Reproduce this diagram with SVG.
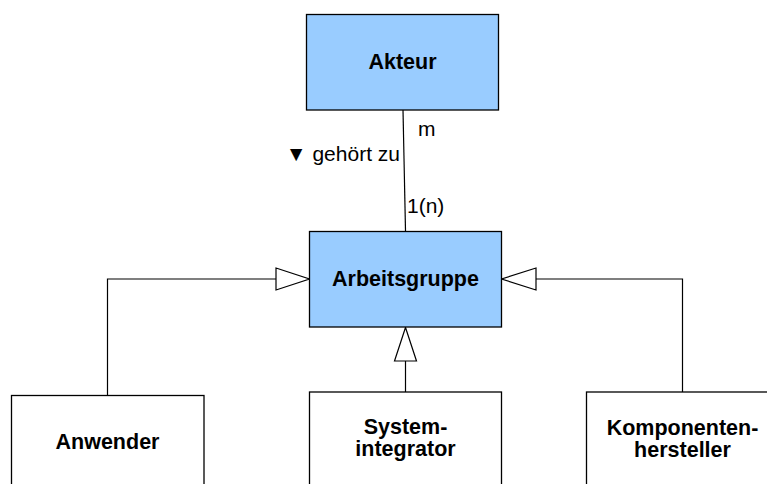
<svg xmlns="http://www.w3.org/2000/svg" width="767" height="484" viewBox="0 0 767 484">
  <style>
    .box { stroke: #000; stroke-width: 1.3; }
    .cls { fill: #99ccff; }
    .sub { fill: #ffffff; }
    .name { font-family: "Liberation Sans", Arial, sans-serif; font-size: 21.5px; font-weight: bold; text-anchor: middle; fill: #000; }
    .lbl { font-family: "Liberation Sans", Arial, sans-serif; font-size: 21px; fill: #000; }
    .edge { fill: none; stroke: #000; stroke-width: 1.2; }
    .head { fill: #fff; stroke: #000; stroke-width: 1.2; }
  </style>

  <!-- connectors -->
  <g id="connectors">
    <!-- association Akteur - Arbeitsgruppe -->
    <line class="edge" x1="403" y1="110" x2="405.5" y2="231"/>
    <text class="lbl" x="418" y="136">m</text>
    <text class="lbl" x="400" y="161" text-anchor="end">▼ gehört zu</text>
    <text class="lbl" x="407" y="213">1(n)</text>

    <!-- generalisation Anwender -> Arbeitsgruppe -->
    <polyline class="edge" points="107.5,395 107.5,279 276,279"/>
    <polygon class="head" points="276,268 309.5,279 276,290"/>

    <!-- generalisation Systemintegrator -> Arbeitsgruppe -->
    <line class="edge" x1="405.5" y1="392" x2="405.5" y2="361"/>
    <polygon class="head" points="394.5,361 405.5,327.5 416.5,361"/>

    <!-- generalisation Komponentenhersteller -> Arbeitsgruppe -->
    <polyline class="edge" points="682.5,392 682.5,279 536,279"/>
    <polygon class="head" points="536,268 501.5,279 536,290"/>
  </g>

  <g id="akteur">
    <rect class="box cls" x="306.5" y="14.5" width="192" height="95.5"/>
    <text class="name" x="402.5" y="69">Akteur</text>
  </g>

  <g id="arbeitsgruppe">
    <rect class="box cls" x="309.5" y="231.5" width="192" height="95.5"/>
    <text class="name" x="405.5" y="285.5">Arbeitsgruppe</text>
  </g>

  <g id="anwender">
    <rect class="box sub" x="11.5" y="395.5" width="192.5" height="100"/>
    <text class="name" x="107.5" y="448.5">Anwender</text>
  </g>

  <g id="systemintegrator">
    <rect class="box sub" x="309.5" y="392" width="192" height="100"/>
    <text class="name" x="405.5" y="433.5">System-</text>
    <text class="name" x="405.5" y="455.5">integrator</text>
  </g>

  <g id="komponentenhersteller">
    <rect class="box sub" x="586.5" y="392" width="192" height="100"/>
    <text class="name" x="682.5" y="435">Komponenten-</text>
    <text class="name" x="682.5" y="457">hersteller</text>
  </g>
</svg>
